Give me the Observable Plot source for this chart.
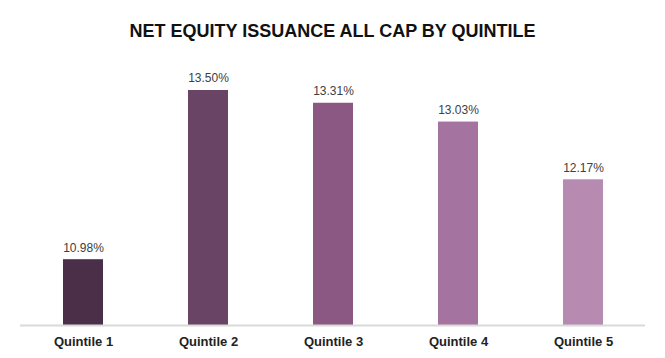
<!DOCTYPE html>
<html>
<head>
<meta charset="utf-8">
<script src="https://cdn.jsdelivr.net/npm/d3@7"></script>
<script src="https://cdn.jsdelivr.net/npm/@observablehq/plot@0.6"></script>
<style>
  body { margin: 0; background: #fff; }
  #title { height: 50px; line-height: 62px; text-align: center; font-family: "Liberation Sans", Arial, sans-serif; font-weight: bold; font-size: 18px; color: #111; }
  #chart svg { display: block; }
</style>
</head>
<body>
<div id="title">NET EQUITY ISSUANCE ALL CAP BY QUINTILE</div>
<div id="chart"></div>
<script>
const categories = ["Quintile 1", "Quintile 2", "Quintile 3", "Quintile 4", "Quintile 5"];
const values = [10.98, 13.50, 13.31, 13.03, 12.17];
const colors = ["#4b2e47", "#6a4465", "#8a5883", "#a5739f", "#b78bb1"];
const axisMin = 10;

const data = categories.map((c, i) => ({ cat: c, value: values[i], color: colors[i] }));

const chart = Plot.plot({
  width: 665,
  height: 308,
  marginLeft: 20,
  marginRight: 20,
  marginTop: 40,
  marginBottom: 33,
  style: { fontFamily: "Liberation Sans, Arial, sans-serif", background: "#fff" },
  x: { domain: categories, paddingInner: 0.68, paddingOuter: 0.34, axis: null },
  y: { domain: [axisMin, 13.5], axis: null },
  marks: [
    Plot.barY(data, { x: "cat", y1: axisMin, y2: "value", fill: "color" }),
    Plot.ruleY([axisMin], { stroke: "#d9d9d9", strokeWidth: 2 }),
    Plot.text(data, { x: "cat", y: "value", text: d => d.value.toFixed(2) + "%", dy: -12, fontSize: 12, fill: "#404040" }),
    Plot.text(data, { x: "cat", y: axisMin, text: "cat", dy: 16, fontSize: 13, fontWeight: "bold", fill: "#222" })
  ]
});
document.getElementById("chart").appendChild(chart);
</script>
</body>
</html>
